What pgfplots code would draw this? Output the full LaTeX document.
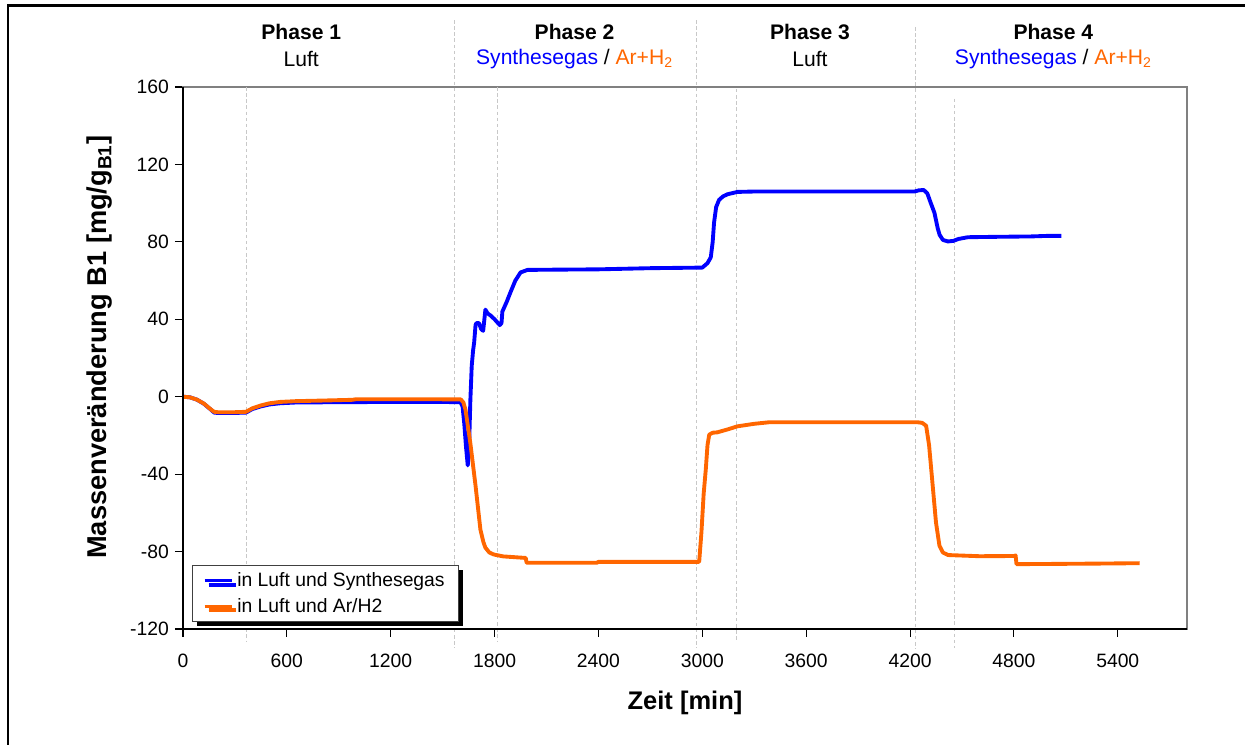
\documentclass[border=0pt]{standalone}
\usepackage{pgfplots}
\pgfplotsset{compat=1.18}
\usepackage{fontspec}
\setmainfont{Liberation Sans}
\usetikzlibrary{shadows}
\definecolor{synblue}{RGB}{0,0,255}
\definecolor{arorange}{RGB}{255,102,0}
\definecolor{dashgray}{RGB}{200,200,200}

\begin{document}
\begin{tikzpicture}
\useasboundingbox (-3.66,-2.32) rectangle (21.24,12.58);
\draw[line width=1.7pt] (-3.5,-2.4) -- (-3.5,12.46) -- (21.4,12.46);
\begin{axis}[
  at={(0,0)}, anchor=south west,
  scale only axis,
  width=20.08cm, height=10.84cm,
  xmin=0, xmax=5800, ymin=-120, ymax=160,
  xtick={0,600,...,5400},
  ytick={-120,-80,...,160},
  tick pos=left,
  tick align=outside,
  major tick length=0.16cm,
  tick style={black, line width=0.6pt},
  axis line style={draw=gray, line width=0.8pt},
  ticklabel style={font=\fontsize{11}{13}\selectfont},
  xticklabel style={yshift=-0.22cm},
  /pgf/number format/assume math mode=true,
  /pgf/number format/1000 sep={},
  scaled ticks=false,
  clip=false,
  xlabel={\bfseries Zeit [min]},
  xlabel style={at={(axis description cs:0.5,-0.1365)}, anchor=center, font=\fontsize{14.5}{16}\selectfont},
  ylabel={\bfseries Massenveränderung B1 [mg/g\textsubscript{B1}]},
  ylabel style={at={(axis description cs:-0.0827,0.52)}, anchor=center, font=\fontsize{15.5}{17}\selectfont},
  legend cell align=left,
  legend image code/.code={\draw[#1, line width=1.8pt] (0cm,0cm) -- (0.55cm,0cm);},
  legend style={at={(axis description cs:0.009,0.118)}, anchor=north west,
    draw=darkgray, line width=0.6pt, fill=white,
    drop shadow={shadow xshift=0.08cm, shadow yshift=-0.08cm, fill=black, opacity=1},
    font=\fontsize{11}{13}\selectfont, inner xsep=6pt, inner ysep=2pt, row sep=1pt,
    nodes={inner xsep=2pt}},
]
% Phasen-Trennlinien
\draw[dashgray, line width=0.5pt, dash pattern=on 2pt off 1.5pt] (axis cs:1570,194.6) -- (axis cs:1570,-130);
\draw[dashgray, line width=0.5pt, dash pattern=on 2pt off 1.5pt] (axis cs:2968,194.6) -- (axis cs:2968,-130);
\draw[dashgray, line width=0.5pt, dash pattern=on 2pt off 1.5pt] (axis cs:4233,191) -- (axis cs:4233,-130);
\draw[dashgray, line width=0.5pt, dash pattern=on 2pt off 1.5pt] (axis cs:364,160) -- (axis cs:364,-126);
\draw[dashgray, line width=0.5pt, dash pattern=on 2pt off 1.5pt] (axis cs:1819,160) -- (axis cs:1819,-126);
\draw[dashgray, line width=0.5pt, dash pattern=on 2pt off 1.5pt] (axis cs:3199,159) -- (axis cs:3199,-126);
\draw[dashgray, line width=0.5pt, dash pattern=on 2pt off 1.5pt] (axis cs:4458,154) -- (axis cs:4458,-130);

\addplot[synblue, line width=2.2pt, line join=round] coordinates {
  (0,0) (40,-0.3) (80,-1.5) (120,-3.6) (160,-6.6) (180,-8.2) (200,-8.4) (300,-8.4) (364,-8.2)
  (400,-6.4) (450,-5.0) (500,-4.0) (560,-3.4) (650,-3.0) (800,-2.9) (1000,-2.8) (1200,-2.7)
  (1400,-2.7) (1603,-2.8) (1615,-5) (1625,-14) (1635,-26) (1645,-35.5) (1652,-28) (1660,-2)
  (1668,16) (1676,24) (1682,28) (1690,37) (1695,38) (1710,38) (1722,35) (1734,34) (1747,45)
  (1760,43) (1776,42) (1800,40) (1830,37) (1840,38) (1845,44) (1870,49) (1892,54) (1920,60)
  (1950,64.2) (1990,65.5) (2100,65.6) (2400,65.8) (2700,66.4) (3000,66.7) (3030,69) (3049,72)
  (3060,80) (3068,90) (3080,98) (3097,101.7) (3120,103.5) (3146,104.6) (3203,105.8) (3300,106)
  (4226,106) (4250,106.6) (4279,106.8) (4300,105) (4320,100) (4341,95) (4360,87) (4371,83.6)
  (4390,81) (4419,80.2) (4450,80.5) (4480,81.5) (4535,82.4) (4700,82.6) (4900,82.8) (5000,83.1)
  (5075,83.1)
};
\addlegendentry{in Luft und Synthesegas}

\addplot[arorange, line width=2.2pt, line join=round] coordinates {
  (0,0) (40,-0.3) (80,-1.5) (120,-3.5) (160,-6.5) (180,-7.8) (200,-8) (300,-8) (364,-7.8)
  (400,-6) (450,-4.5) (500,-3.4) (560,-2.7) (650,-2.3) (800,-2) (980,-1.6) (1000,-1.3)
  (1200,-1.3) (1400,-1.3) (1605,-1.4) (1620,-3) (1632,-6.7) (1660,-24) (1690,-46) (1718,-68.6)
  (1735,-75) (1747,-78) (1770,-80.5) (1795,-81.5) (1850,-82.5) (1980,-83.3) (1985,-85.8)
  (2390,-85.8) (2400,-85.3) (2982,-85.3) (2995,-70) (3008,-50) (3020,-37.7) (3030,-25)
  (3040,-19.6) (3060,-18.6) (3087,-18.4) (3150,-16.8) (3203,-15.3) (3300,-14) (3386,-13.2)
  (4244,-13.2) (4270,-13.5) (4293,-15) (4310,-25) (4330,-45) (4350,-65) (4370,-77) (4390,-80.5)
  (4420,-81.8) (4600,-82.4) (4800,-82.3) (4810,-82) (4815,-86.5) (5000,-86.4) (5300,-86.2)
  (5526,-86)
};
\addlegendentry{in Luft und Ar/H2}

\draw[black, line width=0.8pt] (rel axis cs:0,1) -- (rel axis cs:0,0) -- (rel axis cs:1,0);

% Phasen-Titel
\node[font=\fontsize{12}{14}\selectfont\bfseries] at (axis cs:683,188.4) {Phase 1};
\node[font=\fontsize{12}{14}\selectfont] at (axis cs:683,174.5) {Luft};
\node[font=\fontsize{12}{14}\selectfont\bfseries] at (axis cs:2262,188.4) {Phase 2};
\node[font=\fontsize{12}{14}\selectfont] at (axis cs:2262,174.5) {\textcolor{synblue}{Synthesegas} / \textcolor{arorange}{Ar+H\textsubscript{2}}};
\node[font=\fontsize{12}{14}\selectfont\bfseries] at (axis cs:3622,188.4) {Phase 3};
\node[font=\fontsize{12}{14}\selectfont] at (axis cs:3622,174.5) {Luft};
\node[font=\fontsize{12}{14}\selectfont\bfseries] at (axis cs:5028,188.4) {Phase 4};
\node[font=\fontsize{12}{14}\selectfont] at (axis cs:5028,174.5) {\textcolor{synblue}{Synthesegas} / \textcolor{arorange}{Ar+H\textsubscript{2}}};
\end{axis}
\end{tikzpicture}
\end{document}
